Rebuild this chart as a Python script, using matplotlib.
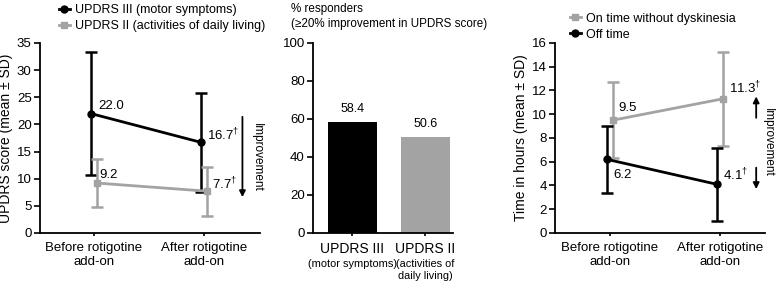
#!/usr/bin/env python3
"""UPDRS scores, responder rates and on/off time before and after rotigotine add-on"""
import matplotlib
matplotlib.use("Agg")
import matplotlib.pyplot as plt
from matplotlib.lines import Line2D

plt.rcParams['font.family'] = ['Liberation Sans', 'DejaVu Sans']
plt.rcParams['font.size'] = 9
plt.rcParams['mathtext.fontset'] = 'custom'
plt.rcParams['mathtext.rm'] = 'Liberation Sans'

BLACK = '#000000'
GREY = '#a3a3a3'

# panel 1: UPDRS scores
timepoints = ['Before rotigotine\nadd-on', 'After rotigotine\nadd-on']
updrs3_mean = [22.0, 16.7]
updrs3_sd = [11.3, 9.1]
updrs2_mean = [9.2, 7.7]
updrs2_sd = [4.5, 4.5]
updrs3_text = ['22.0', '16.7']
updrs2_text = ['9.2', '7.7']
updrs_dagger = [False, True]

# panel 2: responders
resp_groups = ['UPDRS III', 'UPDRS II']
resp_sub = ['(motor symptoms)', '(activities of\ndaily living)']
resp_pct = [58.4, 50.6]

# panel 3: on/off time
on_mean = [9.5, 11.3]
on_sd = [3.2, 3.95]
off_mean = [6.2, 4.1]
off_sd = [2.8, 3.05]
on_text = ['9.5', '11.3']
off_text = ['6.2', '4.1']
time_dagger = [False, True]

fig = plt.figure(figsize=(7.76, 2.84), dpi=100)
ax1 = fig.add_axes([0.0515, 0.1796, 0.2836, 0.669])
ax2 = fig.add_axes([0.4034, 0.1796, 0.1804, 0.669])
ax3 = fig.add_axes([0.7152, 0.1796, 0.2706, 0.669])


def style(ax):
    for s in ['top', 'right']:
        ax.spines[s].set_visible(False)
    for s in ['left', 'bottom']:
        ax.spines[s].set_linewidth(1.3)
    ax.tick_params(axis='y', length=4, width=1.2, pad=2, labelsize=9.5)
    ax.tick_params(axis='x', length=2.5, width=1.2, pad=4)


def series(ax, xs, mean, sd, color, marker):
    ax.errorbar(xs, mean, yerr=sd, color=color, marker=marker, ms=5,
                lw=2, elinewidth=1.8, capsize=4, capthick=1.8)


def label(ax, x, y, txt, dagger, dx, dy):
    if dagger:
        txt = txt + '$^{\\dagger}$'
    ax.annotate(txt, (x, y), xytext=(dx, dy), textcoords='offset points',
                va='center', ha='left', fontsize=9.5)


def handles(items):
    return [Line2D([], [], color=c, marker=m, ms=5, lw=2, label=l)
            for c, m, l in items]


def arrow(ax, x, y0, y1):
    ax.annotate('', xy=(x, y1), xytext=(x, y0),
                arrowprops=dict(arrowstyle='-|>', color='black', lw=1.3,
                                mutation_scale=9, shrinkA=0, shrinkB=0))


d = 0.027
xb = [0 - d, 1 - d]
xg = [0 + d, 1 + d]

# panel 1
style(ax1)
series(ax1, xb, updrs3_mean, updrs3_sd, BLACK, 'o')
series(ax1, xg, updrs2_mean, updrs2_sd, GREY, 's')
for x, y, t, dg, off in zip(xg, updrs3_mean, updrs3_text, updrs_dagger,
                            [(0.7, 5.5), (0.3, 5.3)]):
    label(ax1, x, y, t, dg, *off)
for x, y, t, dg, off in zip(xg, updrs2_mean, updrs2_text, updrs_dagger,
                            [(2, 6), (4, 5)]):
    label(ax1, x, y, t, dg, *off)
ax1.set_ylim(0, 35)
ax1.set_yticks(range(0, 36, 5))
ax1.set_xlim(-0.49, 1.51)
ax1.set_xticks([0, 1])
ax1.set_xticklabels(timepoints, fontsize=9.5)
ax1.set_ylabel('UPDRS score (mean ± SD)', labelpad=3, fontsize=10)
arrow(ax1, 1.35, 21.4, 6.6)
ax1.text(1.48, 14, 'Improvement', rotation=-90, ha='center', va='center', fontsize=8.5)
ax1.legend(handles=handles([(BLACK, 'o', 'UPDRS III (motor symptoms)'),
                            (GREY, 's', 'UPDRS II (activities of daily living)')]),
           loc='upper left', bbox_to_anchor=(0.085, 1.205), frameon=False,
           handlelength=0.9, handletextpad=0.4, borderpad=0, borderaxespad=0,
           labelspacing=0.32, fontsize=9)

# panel 2
style(ax2)
ax2.bar([0, 1], resp_pct, width=0.67, color=[BLACK, GREY])
for x, v in zip([0, 1], resp_pct):
    ax2.annotate(f'{v:.1f}', (x, v), xytext=(0, 5), textcoords='offset points',
                 ha='center', va='bottom', fontsize=9)
ax2.set_ylim(0, 100)
ax2.set_yticks(range(0, 101, 20))
ax2.set_xlim(-0.54, 1.38)
ax2.set_xticks([0, 1])
ax2.set_xticklabels(resp_groups, fontsize=10)
for x, t in zip([0, 1], resp_sub):
    ax2.annotate(t, (x, 0), xycoords=('data', 'axes fraction'),
                 xytext=(0, -19), textcoords='offset points',
                 ha='center', va='top', fontsize=7.9, linespacing=1.25)
ax2.text(-0.157, 1.07, '% responders\n(≥20% improvement in UPDRS score)',
         transform=ax2.transAxes, ha='left', va='bottom', fontsize=8.4,
         linespacing=1.35)

# panel 3
style(ax3)
series(ax3, xg, on_mean, on_sd, GREY, 's')
series(ax3, xb, off_mean, off_sd, BLACK, 'o')
for x, y, t, dg, off in zip(xg, on_mean, on_text, time_dagger,
                            [(3.7, 8.6), (4.5, 7.5)]):
    label(ax3, x, y, t, dg, *off)
for x, y, t, dg, off in zip(xg, off_mean, off_text, time_dagger,
                            [(0, -11.2), (0.3, 6.7)]):
    label(ax3, x, y, t, dg, *off)
ax3.set_ylim(0, 16)
ax3.set_yticks(range(0, 17, 2))
ax3.set_xlim(-0.5, 1.41)
ax3.set_xticks([0, 1])
ax3.set_xticklabels(timepoints, fontsize=9.5)
ax3.set_ylabel('Time in hours (mean ± SD)', labelpad=3, fontsize=10)
arrow(ax3, 1.33, 9.7, 11.5)
arrow(ax3, 1.33, 5.5, 3.7)
ax3.text(1.44, 7.6, 'Improvement', rotation=-90, ha='center', va='center', fontsize=8.5)
ax3.legend(handles=handles([(GREY, 's', 'On time without dyskinesia'),
                            (BLACK, 'o', 'Off time')]),
           loc='upper left', bbox_to_anchor=(0.07, 1.16), frameon=False,
           handlelength=0.9, handletextpad=0.4, borderpad=0, borderaxespad=0,
           labelspacing=0.32, fontsize=9)

fig.savefig('out.png', dpi=100)
